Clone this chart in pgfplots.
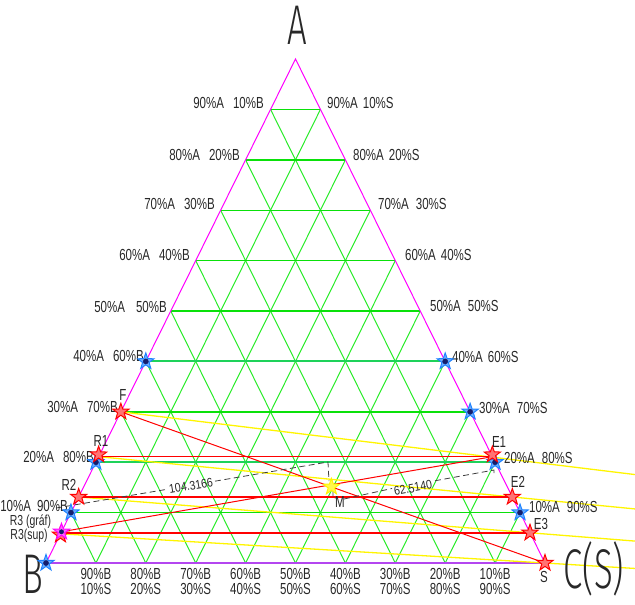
\documentclass[border=0pt]{standalone}
\usepackage{fontspec}
\setmainfont{Liberation Sans}
\newfontfamily\lab[FakeStretch=0.72]{Liberation Sans}
\newfontfamily\dimf[FakeStretch=0.85]{Liberation Sans}
\IfFontExistsTF{Fira Sans Light}
  {\newfontfamily\bigfont[FakeStretch=0.62]{Fira Sans Light}}
  {\newfontfamily\bigfont[FakeStretch=0.62]{Liberation Sans}}
\usepackage{pgfplots}
\pgfplotsset{compat=1.18}

\definecolor{grd}{RGB}{40,235,40}
\definecolor{grh}{RGB}{10,225,10}
\definecolor{grdk}{RGB}{30,210,90}
\definecolor{mag}{RGB}{255,0,255}
\definecolor{bas}{RGB}{180,70,240}
\definecolor{ylw}{RGB}{255,245,0}
\definecolor{txt}{RGB}{40,40,40}
\definecolor{bst}{RGB}{30,130,255}
\definecolor{bfl}{RGB}{110,175,255}
\definecolor{nvy}{RGB}{20,30,110}

% five-pointed star mark
\pgfdeclareplotmark{pstar}{%
  \pgfpathmoveto{\pgfpointpolar{90}{\pgfplotmarksize}}%
  \pgfpathlineto{\pgfpointpolar{126}{0.4*\pgfplotmarksize}}%
  \pgfpathlineto{\pgfpointpolar{162}{\pgfplotmarksize}}%
  \pgfpathlineto{\pgfpointpolar{198}{0.4*\pgfplotmarksize}}%
  \pgfpathlineto{\pgfpointpolar{234}{\pgfplotmarksize}}%
  \pgfpathlineto{\pgfpointpolar{270}{0.4*\pgfplotmarksize}}%
  \pgfpathlineto{\pgfpointpolar{306}{\pgfplotmarksize}}%
  \pgfpathlineto{\pgfpointpolar{342}{0.4*\pgfplotmarksize}}%
  \pgfpathlineto{\pgfpointpolar{18}{\pgfplotmarksize}}%
  \pgfpathlineto{\pgfpointpolar{54}{0.4*\pgfplotmarksize}}%
  \pgfpathclose
  \pgfusepathqfillstroke
}

\tikzset{
  lbl/.style={font=\lab\fontsize{16}{15.5}\selectfont, text=txt, inner sep=0pt},
  lbls/.style={font=\lab\fontsize{14.5}{14.5}\selectfont, text=txt, inner sep=0pt},
  dimt/.style={font=\dimf\fontsize{12.5}{12.5}\selectfont, text=txt, inner sep=0pt},
  big/.style={font=\bigfont\fontsize{56}{56}\selectfont, text=txt, inner sep=0pt},
}

\begin{document}
\begin{tikzpicture}
\begin{axis}[
  scale only axis, width=635pt, height=605pt,
  xmin=-0.0922, xmax=1.1804, ymin=-0.0833, ymax=1.1171,
  hide axis, clip=false, empty line=jump,
]
\coordinate (ll) at (rel axis cs:0,0);
\coordinate (ur) at (rel axis cs:1,1);

% grid: constant S
\addplot[grd, line width=1pt] table {
x y
0.1 0
0.55 0.9

0.2 0
0.6 0.8

0.3 0
0.65 0.7

0.4 0
0.7 0.6

0.5 0
0.75 0.5

0.6 0
0.8 0.4

0.7 0
0.85 0.3

0.8 0
0.9 0.2

0.9 0
0.95 0.1
};
% grid: constant B
\addplot[grd, line width=1pt] table {
x y
0.9 0
0.45 0.9

0.8 0
0.4 0.8

0.7 0
0.35 0.7

0.6 0
0.3 0.6

0.5 0
0.25 0.5

0.4 0
0.2 0.4

0.3 0
0.15 0.3

0.2 0
0.1 0.2

0.1 0
0.05 0.1
};
% grid: constant A (horizontal)
\addplot[grh, line width=1.4pt] table {
x y
0.05 0.1
0.95 0.1

0.15 0.3
0.85 0.3

0.25 0.5
0.75 0.5

0.3 0.6
0.7 0.6

0.35 0.7
0.65 0.7

0.4 0.8
0.6 0.8

0.45 0.9
0.55 0.9
};
\addplot[grdk, line width=2pt] table {
x y
0.1 0.2
0.9 0.2

0.2 0.4
0.8 0.4
};

% triangle
\addplot[mag, line width=1pt] coordinates {(0,0) (0.5,1) (1,0)};
\addplot[bas, line width=2.2pt] coordinates {(0,0) (1,0)};

% yellow operating lines
\addplot[ylw, line width=1.3pt] coordinates {(0.15,0.30) (1.1804,0.1755)};
\addplot[ylw, line width=1.3pt] coordinates {(0.1055,0.211) (1.1804,0.1073)};
\addplot[ylw, line width=1.3pt] coordinates {(0.0655,0.131) (1.1804,0.0435)};
\addplot[ylw, line width=1.3pt] coordinates {(0.029,0.058) (1.1804,-0.0108)};

% red lines
\addplot[red, line width=1pt] coordinates {(0.15,0.30) (1,0)};
\addplot[red, line width=1pt] coordinates {(0.031,0.062) (0.8945,0.211)};
\addplot[red, line width=1.5pt] coordinates {(0.1055,0.211) (0.8945,0.211)};
\addplot[red, line width=1.5pt] coordinates {(0.0655,0.131) (0.9345,0.131)};
\addplot[red, line width=1.5pt] coordinates {(0.030,0.060) (0.970,0.060)};

% dimension lines
\addplot[black!75, line width=0.8pt, dash pattern=on 6pt off 3.5pt] table {
x y
0.020 0.1091
0.2405 0.1459

0.3387 0.1624
0.5651 0.2004
0.5671 0.1627

0.5752 0.1448
0.5752 0.1290
0.5852 0.1290

0.5972 0.1270
0.6934 0.1479

0.7796 0.1632
0.8978 0.1845
0.8978 0.1720
};
\node[dimt, rotate=9.6] at (axis cs:0.2906,0.1528) {104.3166};
\node[dimt, rotate=10.3] at (axis cs:0.7355,0.1488) {62.5140};

% blue stars
\addplot[only marks, mark=pstar, mark size=8.5pt,
  mark options={draw=bst, fill=bfl, line width=1pt}] coordinates {
  (0.2,0.4) (0.8,0.4) (0.85,0.3) (0.1,0.2) (0.9,0.2) (0.05,0.1) (0.95,0.1) (0,0)};
\addplot[only marks, mark=*, mark size=2.6pt, mark options={draw=nvy, fill=nvy}] coordinates {
  (0.2,0.4) (0.8,0.4) (0.85,0.3) (0.1,0.2) (0.9,0.2) (0.05,0.1) (0.95,0.1) (0,0)};
% red stars
\addplot[only marks, mark=pstar, mark size=8.5pt,
  mark options={draw=red, fill=red!55, line width=1pt}] coordinates {
  (0.15,0.30) (0.1055,0.215) (0.0655,0.131) (0.029,0.056)
  (0.8945,0.215) (0.9345,0.131) (0.970,0.060) (1,0)};
% R3 (graf)
\addplot[only marks, mark=pstar, mark size=8.5pt,
  mark options={draw=mag, fill=mag!60, line width=1pt}] coordinates {(0.031,0.062)};
\addplot[only marks, mark=*, mark size=2.2pt, mark options={draw=nvy, fill=nvy}] coordinates {(0.031,0.062)};
% M
\addplot[only marks, mark=pstar, mark size=8.5pt,
  mark options={draw=ylw, fill=ylw!70, line width=1pt}] coordinates {(0.572,0.151)};

% vertex letters
\node[big] at (axis cs:0.504,1.067) {A};
\node[big] at (axis cs:-0.026,-0.022) {B};
\node[big] at (axis cs:1.098,-0.0119) {C(S)};

% left side labels
\node[lbl, anchor=east] at (axis cs:0.4369,0.9127) {90\%A\hspace{9pt}10\%B};
\node[lbl, anchor=east] at (axis cs:0.3888,0.8095) {80\%A\hspace{9pt}20\%B};
\node[lbl, anchor=east] at (axis cs:0.3387,0.7123) {70\%A\hspace{9pt}30\%B};
\node[lbl, anchor=east] at (axis cs:0.2886,0.6111) {60\%A\hspace{9pt}40\%B};
\node[lbl, anchor=east] at (axis cs:0.2425,0.5085) {50\%A\hspace{11pt}50\%B};
\node[lbl, anchor=east] at (axis cs:0.1964,0.4107) {40\%A\hspace{9pt}60\%B};
\node[lbl, anchor=east] at (axis cs:0.1443,0.3101) {30\%A\hspace{9pt}70\%B};
\node[lbl, anchor=east] at (axis cs:0.0962,0.2109) {20\%A\hspace{9pt}80\%B};
\node[lbl, anchor=east] at (axis cs:0.0441,0.1131) {10\%A\hspace{6pt}90\%B};

% right side labels
\node[lbl, anchor=west] at (axis cs:0.5631,0.9127) {90\%A\hspace{5pt}10\%S};
\node[lbl, anchor=west] at (axis cs:0.6152,0.8095) {80\%A\hspace{5pt}20\%S};
\node[lbl, anchor=west] at (axis cs:0.6653,0.7123) {70\%A\hspace{7pt}30\%S};
\node[lbl, anchor=west] at (axis cs:0.7194,0.6111) {60\%A\hspace{5pt}40\%S};
\node[lbl, anchor=west] at (axis cs:0.7695,0.5099) {50\%A\hspace{7pt}50\%S};
\node[lbl, anchor=west] at (axis cs:0.8136,0.4093) {40\%A\hspace{5pt}60\%S};
\node[lbl, anchor=west] at (axis cs:0.8677,0.3075) {30\%A\hspace{7pt}70\%S};
\node[lbl, anchor=west] at (axis cs:0.9178,0.2083) {20\%A\hspace{7pt}80\%S};
\node[lbl, anchor=west] at (axis cs:0.9679,0.1117) {10\%A\hspace{7pt}90\%S};

% base labels
\node[lbl, align=center] at (axis cs:0.1,-0.0367) {90\%B\\10\%S};
\node[lbl, align=center] at (axis cs:0.2,-0.0367) {80\%B\\20\%S};
\node[lbl, align=center] at (axis cs:0.3,-0.0367) {70\%B\\30\%S};
\node[lbl, align=center] at (axis cs:0.4,-0.0367) {60\%B\\40\%S};
\node[lbl, align=center] at (axis cs:0.5,-0.0367) {50\%B\\50\%S};
\node[lbl, align=center] at (axis cs:0.6,-0.0367) {40\%B\\60\%S};
\node[lbl, align=center] at (axis cs:0.7,-0.0367) {30\%B\\70\%S};
\node[lbl, align=center] at (axis cs:0.8,-0.0367) {20\%B\\80\%S};
\node[lbl, align=center] at (axis cs:0.9,-0.0367) {10\%B\\90\%S};

% point labels
\node[lbl] at (axis cs:0.154,0.333) {F};
\node[lbl] at (axis cs:0.110,0.242) {R1};
\node[lbl] at (axis cs:0.046,0.155) {R2};
\node[lbls] at (axis cs:-0.031,0.0830) {R3 (gráf)};
\node[lbls] at (axis cs:-0.034,0.0550) {R3(sup)};
\node[lbl] at (axis cs:0.908,0.240) {E1};
\node[lbl] at (axis cs:0.946,0.161) {E2};
\node[lbl] at (axis cs:0.992,0.0780) {E3};
\node[lbl] at (axis cs:0.998,-0.0278) {S};
\node[lbl] at (axis cs:0.589,0.121) {M};
\end{axis}
\pgfresetboundingbox
\path[use as bounding box] (ll) rectangle (ur);
\end{tikzpicture}
\end{document}
